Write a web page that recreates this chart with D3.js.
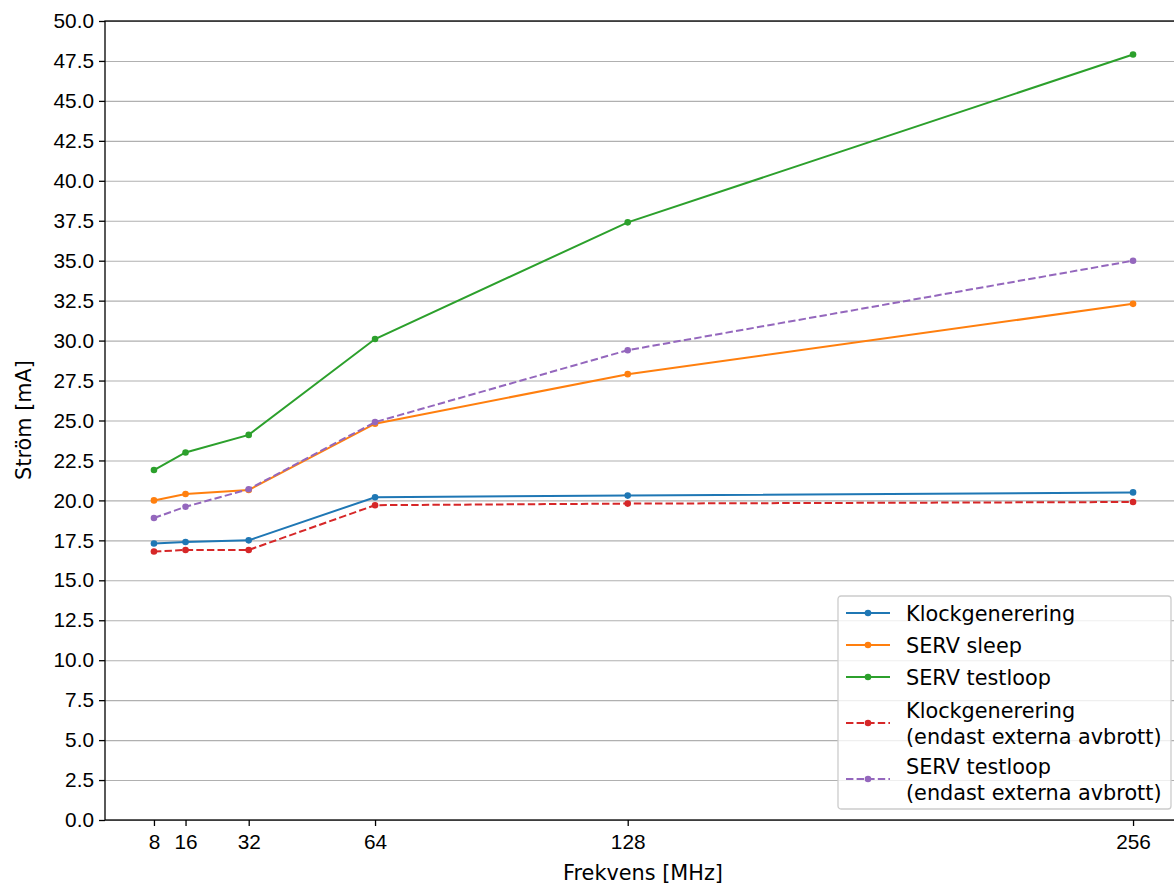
<!DOCTYPE html>
<html>
<head>
<meta charset="utf-8">
<script src="https://cdn.jsdelivr.net/npm/d3@7"></script>
<style>
    body { margin: 0; background: #fff; }
    svg { display: block; font-family: "DejaVu Sans", sans-serif; }
    .axis text { font-size: 20.8px; fill: #000; }
    .axis path, .axis line { stroke: #000; stroke-width: 1.3; }
    .grid line { stroke: #b0b0b0; stroke-width: 1.1; }
    .grid path { display: none; }
</style>
</head>
<body>
<svg id="chart" width="1174" height="884"></svg>
<script>

/*    ========    DATA    =========    */

var freqs = [8, 16, 32, 64, 128, 256];   // MHz
var yTicks = d3.range(0, 50.01, 2.5);

var seriesNames = [
    ["Klockgenerering"],
    ["SERV sleep"],
    ["SERV testloop"],
    ["Klockgenerering", "(endast externa avbrott)"],
    ["SERV testloop", "(endast externa avbrott)"]
];
var seriesColors = ["#1f77b4", "#ff7f0e", "#2ca02c", "#d62728", "#9467bd"];
var seriesDashed = [false, false, false, true, true];

var klock       = [17.3, 17.4, 17.5, 20.2, 20.3, 20.5];
var servSleep   = [20.0, 20.4, 20.65, 24.8, 27.9, 32.3];
var servTest    = [21.9, 23.0, 24.1, 30.1, 37.4, 47.9];
var klockExt    = [16.8, 16.9, 16.9, 19.7, 19.8, 19.9];
var servTestExt = [18.9, 19.6, 20.7, 24.9, 29.4, 35.0];

var seriesValues = [klock, servSleep, servTest, klockExt, servTestExt];

/*    ========    SETTINGS    =========    */

var svg = d3.select('#chart');

// plot box (right edge lies past the window, as in the original)
var boxL = 105, boxT = 21, boxR = 1182, boxB = 820;

var scale_x = d3.scaleLinear().domain([-4.4, 268.4]).range([boxL, boxR]);
var scale_y = d3.scaleLinear().domain([0, 50]).range([boxB, boxT]);

// horizontal gridlines
svg.append("g")
    .attr("class", "grid")
    .attr("transform", "translate(" + boxL + ",0)")
    .call(d3.axisLeft(scale_y)
        .tickValues(yTicks)
        .tickSize(-(boxR - boxL))
        .tickFormat("")
    );

// spines
svg.append("rect")
    .attr("x", boxL).attr("y", boxT)
    .attr("width", boxR - boxL).attr("height", boxB - boxT)
    .attr("fill", "none")
    .attr("stroke", "#000")
    .attr("stroke-width", 1.3);

// axes
svg.append("g")
    .attr("class", "axis")
    .attr("transform", "translate(" + boxL + ",0)")
    .call(d3.axisLeft(scale_y)
        .tickValues(yTicks)
        .tickSize(6)
        .tickPadding(5)
        .tickFormat(d3.format(".1f"))
    )
    .call(function(g) { g.select(".domain").remove(); });

svg.append("g")
    .attr("class", "axis")
    .attr("transform", "translate(0," + boxB + ")")
    .call(d3.axisBottom(scale_x)
        .tickValues(freqs)
        .tickSize(6)
        .tickPadding(8)
        .tickFormat(d3.format("d"))
    )
    .call(function(g) { g.select(".domain").remove(); });

// axis labels
svg.append("text")
    .attr("x", 643).attr("y", 880)
    .attr("text-anchor", "middle")
    .style("font-size", "20.8px")
    .text("Frekvens [MHz]");

svg.append("text")
    .attr("transform", "translate(31,420) rotate(-90)")
    .attr("text-anchor", "middle")
    .style("font-size", "20.8px")
    .text("Ström [mA]");

/*    ========    LINES    =========    */

var line = d3.line()
    .x(function(d, i) { return scale_x(freqs[i]); })
    .y(function(d) { return scale_y(d); });

var plots = svg.append("g").attr("id", "plots");

seriesValues.forEach(function(vals, s) {
    plots.append("path")
        .datum(vals)
        .attr("d", line)
        .attr("fill", "none")
        .attr("stroke", seriesColors[s])
        .attr("stroke-width", 2)
        .attr("stroke-dasharray", seriesDashed[s] ? "7.4,3.2" : null);

    plots.selectAll(".pt" + s)
        .data(vals)
        .enter().append("circle")
        .attr("cx", function(d, i) { return scale_x(freqs[i]); })
        .attr("cy", function(d) { return scale_y(d); })
        .attr("r", 3.3)
        .attr("fill", seriesColors[s]);
});

/*    ========    LEGEND    =========    */

var legend = svg.append("g").attr("transform", "translate(838,596)");

legend.append("rect")
    .attr("x", 0).attr("y", 0)
    .attr("width", 333).attr("height", 213)
    .attr("rx", 3)
    .attr("fill", "#fff")
    .attr("fill-opacity", 0.8)
    .attr("stroke", "#cccccc")
    .attr("stroke-width", 1.3);

var rowY = [17, 49, 81, 127, 183];
seriesNames.forEach(function(lines, s) {
    var y = rowY[s];
    legend.append("line")
        .attr("x1", 8).attr("x2", 52)
        .attr("y1", y).attr("y2", y)
        .attr("stroke", seriesColors[s])
        .attr("stroke-width", 2)
        .attr("stroke-dasharray", seriesDashed[s] ? "7.4,3.2" : null);
    legend.append("circle")
        .attr("cx", 30).attr("cy", y).attr("r", 3.3)
        .attr("fill", seriesColors[s]);
    var t = legend.append("text")
        .style("font-size", "20.8px");
    lines.forEach(function(l, k) {
        t.append("tspan")
            .attr("x", 68)
            .attr("y", y + 7.5 + (k - (lines.length - 1) / 2) * 26)
            .text(l);
    });
});

</script>
</body>
</html>
